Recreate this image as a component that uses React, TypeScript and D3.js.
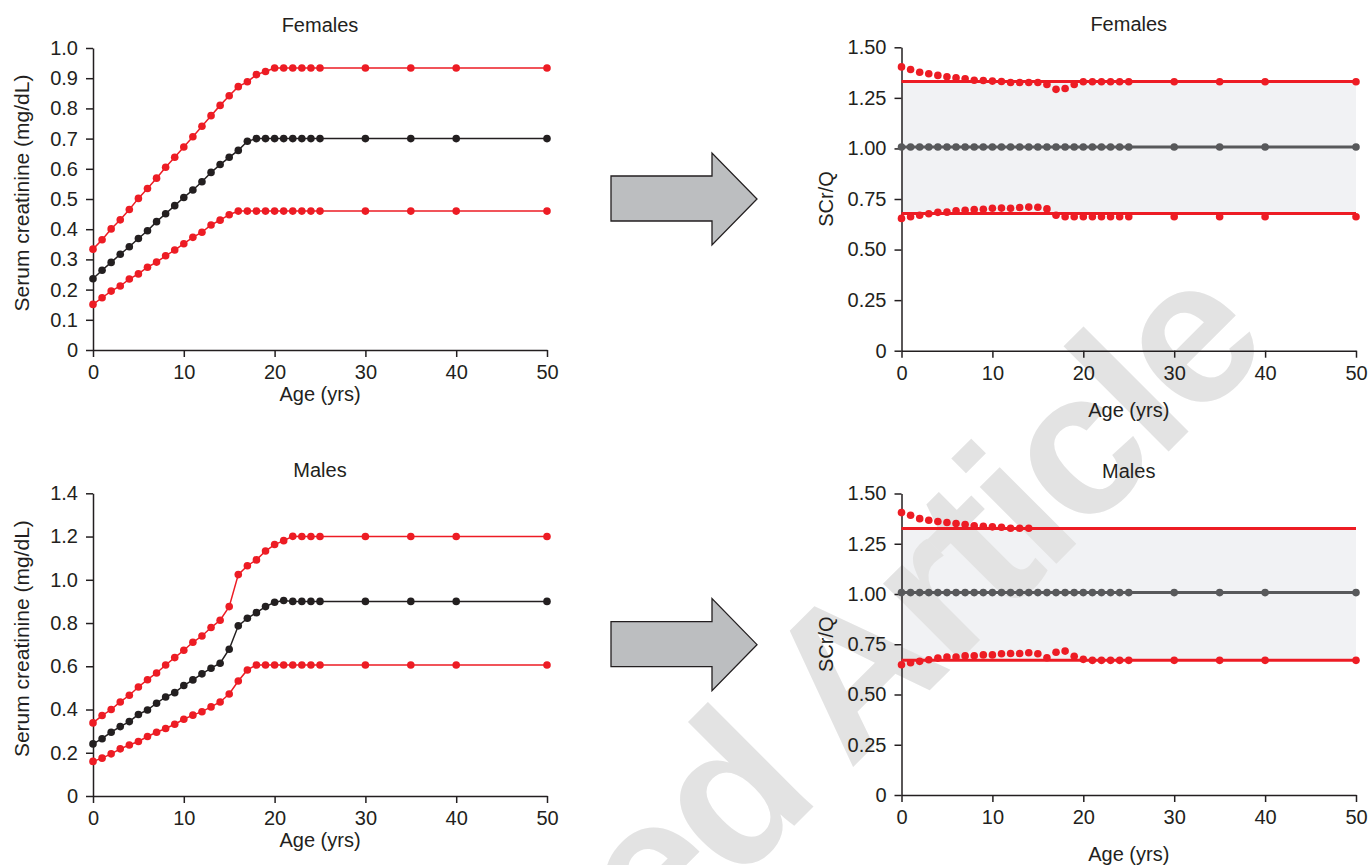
import React, { useEffect, useRef } from 'react';
import * as d3 from 'd3';

// ages sampled in every panel
const AGES = [0, 1, 2, 3, 4, 5, 6, 7, 8, 9, 10, 11, 12, 13, 14, 15, 16, 17, 18, 19, 20, 21, 22, 23, 24, 25, 30, 35, 40, 50];

const X_TICKS = [0, 10, 20, 30, 40, 50];
const X_TICK_LABELS = ['0', '10', '20', '30', '40', '50'];

const SCR_F_TICKS = [0, 0.1, 0.2, 0.3, 0.4, 0.5, 0.6, 0.7, 0.8, 0.9, 1.0];
const SCR_F_LABELS = ['0', '0.1', '0.2', '0.3', '0.4', '0.5', '0.6', '0.7', '0.8', '0.9', '1.0'];
const SCR_M_TICKS = [0, 0.2, 0.4, 0.6, 0.8, 1.0, 1.2, 1.4];
const SCR_M_LABELS = ['0', '0.2', '0.4', '0.6', '0.8', '1.0', '1.2', '1.4'];
const RATIO_TICKS = [0, 0.25, 0.5, 0.75, 1.0, 1.25, 1.5];
const RATIO_LABELS = ['0', '0.25', '0.50', '0.75', '1.00', '1.25', '1.50'];

// serum creatinine (mg/dL), females
const femaleUpper = [0.334, 0.365, 0.401, 0.431, 0.465, 0.502, 0.535, 0.569, 0.605, 0.638, 0.672, 0.706, 0.741, 0.776, 0.810, 0.842, 0.872, 0.888, 0.912, 0.922, 0.934, 0.934, 0.934, 0.934, 0.934, 0.934, 0.934, 0.934, 0.934, 0.934];
const femaleMedian = [0.236, 0.264, 0.290, 0.317, 0.342, 0.369, 0.395, 0.425, 0.451, 0.478, 0.505, 0.530, 0.557, 0.588, 0.614, 0.638, 0.661, 0.691, 0.70, 0.70, 0.70, 0.70, 0.70, 0.70, 0.70, 0.70, 0.70, 0.70, 0.70, 0.70];
const femaleLower = [0.151, 0.173, 0.195, 0.212, 0.235, 0.252, 0.274, 0.291, 0.312, 0.331, 0.352, 0.373, 0.390, 0.414, 0.430, 0.448, 0.460, 0.460, 0.460, 0.460, 0.460, 0.460, 0.460, 0.460, 0.460, 0.460, 0.460, 0.460, 0.460, 0.460];

// serum creatinine (mg/dL), males
const maleUpper = [0.338, 0.372, 0.400, 0.435, 0.466, 0.504, 0.538, 0.569, 0.606, 0.640, 0.674, 0.711, 0.740, 0.779, 0.813, 0.876, 1.024, 1.065, 1.092, 1.133, 1.163, 1.181, 1.201, 1.20, 1.20, 1.20, 1.20, 1.20, 1.20, 1.20];
const maleMedian = [0.241, 0.265, 0.295, 0.321, 0.344, 0.377, 0.398, 0.429, 0.458, 0.478, 0.511, 0.537, 0.565, 0.591, 0.614, 0.679, 0.787, 0.822, 0.848, 0.876, 0.896, 0.904, 0.90, 0.90, 0.90, 0.90, 0.90, 0.90, 0.90, 0.90];
const maleLower = [0.160, 0.175, 0.195, 0.218, 0.236, 0.252, 0.275, 0.295, 0.312, 0.332, 0.355, 0.374, 0.390, 0.412, 0.435, 0.472, 0.532, 0.583, 0.606, 0.606, 0.606, 0.606, 0.606, 0.606, 0.606, 0.606, 0.606, 0.606, 0.606, 0.606];

// SCr/Q, females
const femaleRatioUpper = [1.403, 1.390, 1.377, 1.369, 1.361, 1.354, 1.349, 1.344, 1.337, 1.336, 1.333, 1.331, 1.326, 1.326, 1.326, 1.326, 1.316, 1.292, 1.296, 1.316, 1.33, 1.33, 1.33, 1.33, 1.33, 1.33, 1.33, 1.33, 1.33, 1.33];
const femaleRatioMedian = [1.007, 1.007, 1.007, 1.007, 1.007, 1.007, 1.007, 1.007, 1.007, 1.007, 1.007, 1.007, 1.007, 1.007, 1.007, 1.007, 1.007, 1.007, 1.007, 1.007, 1.007, 1.007, 1.007, 1.007, 1.007, 1.007, 1.007, 1.007, 1.007, 1.007];
const femaleRatioLower = [0.654, 0.662, 0.670, 0.677, 0.684, 0.685, 0.692, 0.694, 0.698, 0.699, 0.704, 0.705, 0.704, 0.708, 0.710, 0.709, 0.701, 0.670, 0.662, 0.662, 0.662, 0.662, 0.662, 0.662, 0.662, 0.662, 0.662, 0.662, 0.662, 0.662];
const femaleBand = [0.678, 1.331];

// SCr/Q, males (upper dots stop at 14 yrs)
const maleRatioUpper = [1.405, 1.392, 1.375, 1.367, 1.361, 1.356, 1.351, 1.346, 1.339, 1.337, 1.334, 1.332, 1.327, 1.327, 1.327, null, null, null, null, null, null, null, null, null, null, null, null, null, null, null];
const maleRatioMedian = [1.007, 1.007, 1.007, 1.007, 1.007, 1.007, 1.007, 1.007, 1.007, 1.007, 1.007, 1.007, 1.007, 1.007, 1.007, 1.007, 1.007, 1.007, 1.007, 1.007, 1.007, 1.007, 1.007, 1.007, 1.007, 1.007, 1.007, 1.007, 1.007, 1.007];
const maleRatioLower = [0.648, 0.658, 0.665, 0.673, 0.681, 0.686, 0.686, 0.692, 0.693, 0.697, 0.697, 0.703, 0.704, 0.704, 0.708, 0.703, 0.683, 0.710, 0.716, 0.690, 0.675, 0.670, 0.670, 0.670, 0.670, 0.670, 0.670, 0.670, 0.670, 0.670];
const maleBand = [0.670, 1.326];

const RED = '#ed1c24';
const BLACK = '#231f20';
const GREY = '#58595b';
const BAND = '#f1f2f4';
const FONT = '"Liberation Sans", Arial, Helvetica, sans-serif';

const panels = [
  { title: 'Females', ylabel: 'Serum creatinine (mg/dL)', left: 93, right: 547, top: 48, bottom: 350, yMax: 1.0,
    yTicks: SCR_F_TICKS, yLabels: SCR_F_LABELS, ratio: false, series: [femaleUpper, femaleMedian, femaleLower], band: null },
  { title: 'Males', ylabel: 'Serum creatinine (mg/dL)', left: 93, right: 547, top: 493.3, bottom: 796, yMax: 1.4,
    yTicks: SCR_M_TICKS, yLabels: SCR_M_LABELS, ratio: false, series: [maleUpper, maleMedian, maleLower], band: null },
  { title: 'Females', ylabel: 'SCr/Q', left: 901.5, right: 1356, top: 47.3, bottom: 350.7, yMax: 1.5,
    yTicks: RATIO_TICKS, yLabels: RATIO_LABELS, ratio: true, series: [femaleRatioUpper, femaleRatioMedian, femaleRatioLower], band: femaleBand },
  { title: 'Males', ylabel: 'SCr/Q', left: 901.5, right: 1356, top: 493.5, bottom: 795, yMax: 1.5,
    yTicks: RATIO_TICKS, yLabels: RATIO_LABELS, ratio: true, series: [maleRatioUpper, maleRatioMedian, maleRatioLower], band: maleBand },
];

const App = () => {
  const svgRef = useRef(null);

  useEffect(() => {
    const svg = d3.select(svgRef.current);
    svg.selectAll('*').remove();

    const scales = panels.map(p => ({
      x: d3.scaleLinear().domain([0, 50]).range([p.left, p.right]),
      y: d3.scaleLinear().domain([0, p.yMax]).range([p.bottom, p.top]),
    }));

    // shaded reference band first
    panels.forEach((p, i) => {
      if (!p.band) return;
      const { x, y } = scales[i];
      svg.append('rect')
        .attr('x', x(0))
        .attr('y', y(p.band[1]))
        .attr('width', x(50) - x(0))
        .attr('height', y(p.band[0]) - y(p.band[1]))
        .attr('fill', BAND);
    });

    // watermark
    svg.append('text')
      .attr('transform', 'translate(1271,349) rotate(-45)')
      .attr('text-anchor', 'end')
      .attr('font-family', FONT)
      .attr('font-weight', 'bold')
      .attr('font-size', 205)
      .attr('letter-spacing', -6)
      .attr('fill', '#e3e3e3')
      .text('Accepted Article');

    panels.forEach((p, i) => {
      const { x, y } = scales[i];
      const g = svg.append('g');

      const xAxis = d3.axisBottom(x)
        .tickValues(X_TICKS)
        .tickFormat((d, k) => X_TICK_LABELS[k])
        .tickSize(7)
        .tickSizeOuter(0)
        .tickPadding(8);
      const yAxis = d3.axisLeft(y)
        .tickValues(p.yTicks)
        .tickFormat((d, k) => p.yLabels[k])
        .tickSize(7)
        .tickSizeOuter(0)
        .tickPadding(8);

      [g.append('g').attr('transform', `translate(0,${p.bottom})`).call(xAxis),
       g.append('g').attr('transform', `translate(${p.left},0)`).call(yAxis)].forEach(ax => {
        ax.attr('font-size', 20).attr('font-family', FONT);
        ax.selectAll('path, line').attr('stroke', BLACK).attr('stroke-width', 1.5);
        ax.selectAll('text').attr('fill', BLACK);
      });

      const cx = (p.left + p.right) / 2;
      g.append('text')
        .attr('x', cx)
        .attr('y', p.top - 16)
        .attr('text-anchor', 'middle')
        .attr('font-family', FONT)
        .attr('font-size', 20)
        .attr('fill', BLACK)
        .text(p.title);

      g.append('text')
        .attr('x', cx)
        .attr('y', p.bottom + (p.ratio ? 66 : 51))
        .attr('text-anchor', 'middle')
        .attr('font-family', FONT)
        .attr('font-size', 20)
        .attr('fill', BLACK)
        .text('Age (yrs)');

      g.append('text')
        .attr('transform', `translate(${p.ratio ? p.left - 69 : p.left - 64},${(p.top + p.bottom) / 2 - (p.ratio ? 0 : 6)}) rotate(-90)`)
        .attr('text-anchor', 'middle')
        .attr('font-family', FONT)
        .attr('font-size', p.ratio ? 20 : 21)
        .attr('fill', BLACK)
        .text(p.ylabel);

      const colors = p.ratio ? [RED, GREY, RED] : [RED, BLACK, RED];

      if (p.ratio) {
        // reference limits
        p.band.forEach(v => {
          g.append('line')
            .attr('x1', x(0)).attr('x2', x(50))
            .attr('y1', y(v)).attr('y2', y(v))
            .attr('stroke', RED)
            .attr('stroke-width', 3);
        });
      }

      p.series.forEach((vals, s) => {
        const pts = AGES.map((a, k) => ({ age: a, v: vals[k] })).filter(d => d.v != null);
        const connect = !p.ratio || s === 1;
        if (connect) {
          const line = d3.line().x(d => x(d.age)).y(d => y(d.v));
          g.append('path')
            .datum(pts)
            .attr('fill', 'none')
            .attr('stroke', colors[s])
            .attr('stroke-width', p.ratio ? 3 : 1.5)
            .attr('d', line);
        }
        g.selectAll(null)
          .data(pts)
          .enter()
          .append('circle')
          .attr('cx', d => x(d.age))
          .attr('cy', d => y(d.v))
          .attr('r', 3.8)
          .attr('fill', colors[s]);
      });
    });

    // arrows between the columns
    [panels[0], panels[1]].forEach(p => {
      const mid = (p.top + p.bottom) / 2;
      const arrow = d3.path();
      arrow.moveTo(611, mid - 23);
      arrow.lineTo(712, mid - 23);
      arrow.lineTo(712, mid - 46);
      arrow.lineTo(757, mid);
      arrow.lineTo(712, mid + 46);
      arrow.lineTo(712, mid + 22);
      arrow.lineTo(611, mid + 22);
      arrow.closePath();
      svg.append('path')
        .attr('d', arrow.toString())
        .attr('fill', '#bcbec0')
        .attr('stroke', BLACK)
        .attr('stroke-width', 1.3);
    });
  }, []);

  return (
    <div style={{ position: 'absolute', left: 0, top: 0, background: '#fff' }}>
      <svg ref={svgRef} width={1370} height={865} style={{ display: 'block' }}></svg>
    </div>
  );
};

export default App;
